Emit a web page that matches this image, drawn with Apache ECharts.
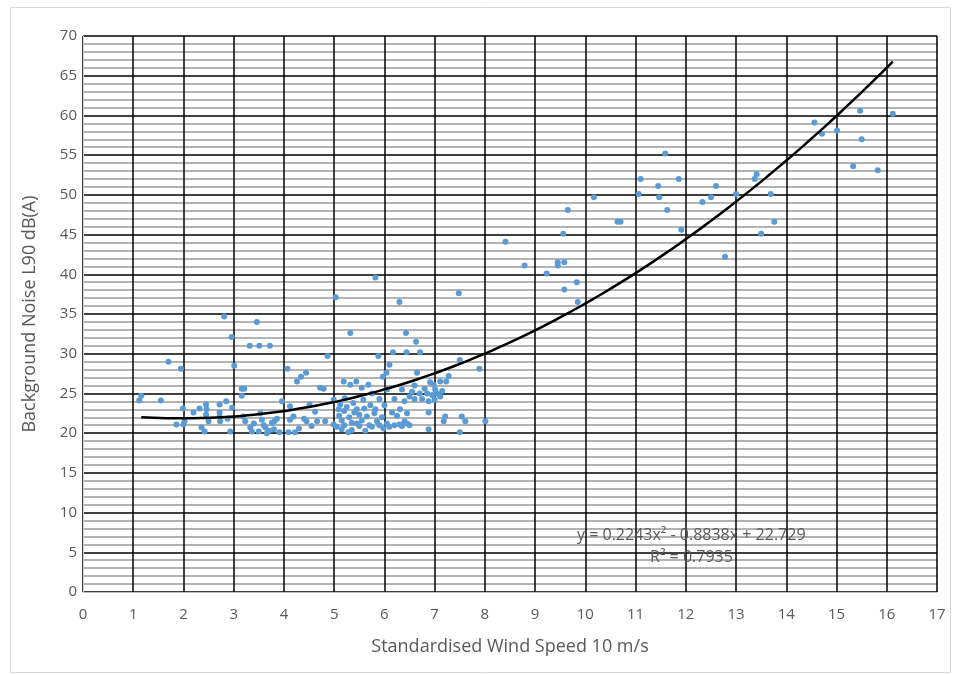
<!DOCTYPE html>
<html>
<head>
<meta charset="utf-8">
<script src="https://cdn.jsdelivr.net/npm/echarts@6/dist/echarts.min.js"></script>
<style>
  html, body { margin: 0; padding: 0; background: #fff; }
  #noiseChart { width: 953px; height: 675px; }
</style>
</head>
<body>
<div id="noiseChart"></div>
<script>
  // measured points: [wind speed m/s, L90 dB(A)]
  var measurements = [
    [1.16,24.7],[1.12,24.1],[1.55,24.1],[1.70,29.0],[1.95,28.1],[1.99,23.1],[1.86,21.1],[2.02,21.5],
    [2.0,21.1],[2.2,22.6],[2.32,23.1],[2.45,23.6],[2.46,23.0],[2.45,22.3],[2.5,21.5],[2.36,20.7],
    [2.42,20.2],[2.72,23.6],[2.85,24.0],[2.72,22.6],[2.72,22.1],[2.73,21.5],[2.88,21.8],[2.93,20.2],
    [2.97,23.2],[2.81,34.7],[2.96,32.1],[3.01,28.5],
    [3.32,31.0],[3.51,31.0],[3.72,31.0],[3.46,34.0],[3.16,25.6],[3.21,25.6],[3.16,24.7],[3.19,22.1],
    [3.23,21.5],[3.33,20.7],[3.36,20.2],[3.4,21.2],[3.53,22.5],[3.56,21.7],[3.63,20.7],[3.66,20.0],
    [3.5,20.2],[3.76,21.3],[3.81,21.5],[3.86,21.8],[3.91,20.1],[3.96,24.0],[3.6,21.0],[3.7,20.3],[3.8,20.5],
    [4.07,28.1],[4.09,20.1],[4.12,21.7],[4.19,22.1],[4.12,23.4],[4.22,20.1],[4.26,26.5],[4.34,27.1],
    [4.44,27.6],[4.4,21.8],[4.45,21.5],[4.51,23.6],[4.62,22.7],[4.66,21.5],[4.72,25.7],[4.79,25.6],
    [4.82,21.5],[4.87,29.7],[4.99,24.2],[4.99,21.1],[4.3,20.6],[4.55,20.9],
    [5.03,37.1],[5.32,32.6],[5.82,39.6],[5.88,29.7],[5.09,23.0],[5.19,26.5],[5.21,24.4],[5.32,26.1],
    [5.44,26.5],[5.55,25.7],[5.68,26.1],[5.75,25.0],[5.28,20.1],[5.97,27.1],
    [5.1,22.2],[5.15,21.6],[5.2,22.8],[5.25,23.3],[5.3,22.0],[5.35,21.3],[5.4,22.6],[5.45,23.0],
    [5.5,22.3],[5.55,21.6],[5.6,23.1],[5.65,22.1],[5.7,21.0],[5.8,22.5],[5.85,21.5],[5.9,21.0],
    [5.95,22.0],[5.05,20.8],[5.15,20.5],[5.35,20.4],[5.5,20.9],[5.62,20.3],[5.75,20.8],[5.2,21.0],
    [5.45,21.2],[5.12,23.6],[5.38,23.8],[5.58,24.2],[5.72,23.5],[5.9,24.3],[5.82,23.0],[5.98,20.6],
    [6.04,27.6],[6.10,28.6],[6.17,30.2],[6.44,30.2],[6.71,30.2],[6.30,36.5],[6.43,32.6],[6.63,31.5],
    [6.65,27.6],[6.31,23.0],[6.05,21.2],[6.1,20.8],[6.2,21.0],[6.3,21.1],[6.35,20.9],[6.45,21.2],
    [6.5,21.0],[6.4,21.5],[6.25,22.2],[6.15,22.6],[6.4,24.0],[6.5,24.6],[6.55,25.2],[6.6,24.3],
    [6.7,25.0],[6.75,24.3],[6.8,25.6],[6.88,24.0],[6.88,22.6],[6.88,20.5],[6.91,26.4],[6.98,26.1],
    [6.85,25.0],[6.95,24.8],[6.2,24.3],[6.05,25.5],[6.0,23.5],[6.45,22.5],[6.6,26.0],[6.35,25.5],
    [7.01,25.5],[7.11,26.5],[7.23,26.5],[7.28,27.2],[7.11,24.6],[7.05,25.0],[7.15,25.3],[7.21,22.1],
    [7.18,21.5],[7.5,29.2],[7.48,37.6],[7.54,22.1],[7.61,21.5],[7.50,20.1],[7.89,28.1],[8.01,21.5],[7.0,24.2],
    [8.41,44.1],[8.79,41.1],[9.23,40.1],[9.45,41.5],[9.58,41.5],[9.45,41.1],[9.56,45.1],[9.65,48.1],
    [9.83,39.0],[9.58,38.1],[9.85,36.5],
    [10.17,49.7],[10.64,46.6],[10.70,46.6],[11.06,50.1],[11.10,52.0],[11.45,51.1],[11.47,49.7],
    [11.59,55.2],[11.63,48.1],[11.86,52.0],[11.91,45.6],[12.33,49.1],[12.50,49.7],[12.60,51.1],
    [12.78,42.2],[13.00,50.1],[13.37,52.0],[13.41,52.6],[13.69,50.1],[13.50,45.1],[13.76,46.6],
    [14.56,59.1],[14.71,57.7],[15.01,58.1],[15.47,60.6],[15.50,57.0],[15.33,53.6],[15.82,53.1],[16.12,60.2]
  ];

  // polynomial trendline shown on the chart (order 2)
  var trendCoef = [22.729, -0.8838, 0.2243];
  var trendRange = [1.16, 16.12];
  var trendLabel = 'y = 0.2243x\u00b2 - 0.8838x + 22.729';
  var r2Label = 'R\u00b2 = 0.7935';

  var trendLine = [];
  for (var i = 0; i <= 60; i++) {
    var x = trendRange[0] + (trendRange[1] - trendRange[0]) * i / 60;
    trendLine.push([x, trendCoef[0] + trendCoef[1] * x + trendCoef[2] * x * x]);
  }

  var txt = '#595959';
  var font = '"Open Sans", sans-serif';

  var chart = echarts.init(document.getElementById('noiseChart'));
  chart.setOption({
    animation: false,
    grid: { left: 83, right: 16, top: 36, bottom: 83 },
    xAxis: {
      type: 'value', min: 0, max: 17, interval: 1,
      name: 'Standardised Wind Speed 10 m/s',
      nameLocation: 'middle', nameGap: 46,
      nameTextStyle: { color: txt, fontSize: 18, fontFamily: font },
      axisLine: { lineStyle: { color: '#bfbfbf', width: 1 } },
      axisTick: { show: false },
      axisLabel: { color: txt, fontSize: 15, fontFamily: font, margin: 15 },
      splitLine: { show: true, lineStyle: { color: '#000', width: 1.5 } }
    },
    yAxis: {
      type: 'value', min: 0, max: 70, interval: 5,
      name: 'Background Noise L90 dB(A)',
      nameLocation: 'middle', nameGap: 44,
      nameTextStyle: { color: txt, fontSize: 18, fontFamily: font },
      axisLine: { show: true, lineStyle: { color: '#d0d0d0', width: 1 } },
      axisTick: { show: false },
      axisLabel: { color: txt, fontSize: 15, fontFamily: font, margin: 6 },
      splitLine: { show: true, lineStyle: { color: '#000', width: 1.5 } },
      minorTick: { show: false, splitNumber: 5 },
      minorSplitLine: { show: true, lineStyle: { color: '#9a9a9a', width: 1.5 } }
    },
    graphic: [
      { type: 'rect', left: 8, top: 5, shape: { width: 940, height: 665 },
        style: { fill: 'none', stroke: '#d9d9d9', lineWidth: 1 }, silent: true },
      { type: 'text', left: 577, top: 527, z: 10,
        style: { text: trendLabel, fill: txt, fontSize: 16, fontFamily: font } },
      { type: 'text', left: 650, top: 549, z: 10,
        style: { text: r2Label, fill: txt, fontSize: 16, fontFamily: font } }
    ],
    series: [
      {
        name: 'L90', type: 'scatter', data: measurements,
        symbolSize: 6, itemStyle: { color: '#5b9bd5', opacity: 1 }, z: 3
      },
      {
        name: 'Poly. (L90)', type: 'line', data: trendLine, showSymbol: false,
        smooth: true, lineStyle: { color: '#000', width: 2.5 }, z: 4
      }
    ]
  });
</script>
</body>
</html>
